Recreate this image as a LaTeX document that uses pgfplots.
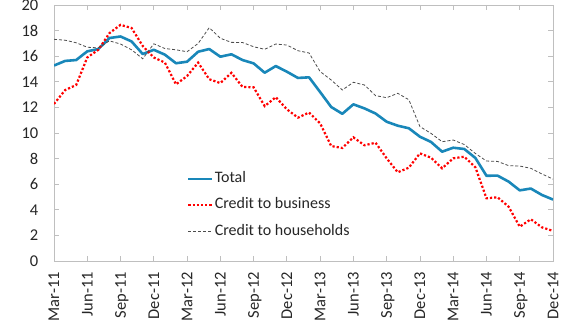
\documentclass[border=0pt]{standalone}
\usepackage{pgfplots}
\pgfplotsset{compat=1.18}
\usepackage{pgfplotstable}
\usepackage{fontspec}
\setmainfont{Carlito}
\definecolor{totc}{RGB}{25,135,185}
\definecolor{axc}{RGB}{191,191,191}
\definecolor{txt}{RGB}{38,38,38}
\pgfplotstableread{
i total business households
0 15.27 12.27 17.32
1 15.63 13.35 17.25
2 15.70 13.75 17.05
3 16.38 15.90 16.70
4 16.56 16.50 16.65
5 17.42 17.80 17.20
6 17.54 18.45 16.95
7 17.15 18.20 16.50
8 16.17 16.80 15.80
9 16.50 15.90 16.97
10 16.12 15.50 16.60
11 15.45 13.80 16.50
12 15.57 14.45 16.35
13 16.35 15.50 17.00
14 16.56 14.20 18.23
15 15.96 13.90 17.40
16 16.15 14.70 17.08
17 15.70 13.60 17.07
18 15.44 13.57 16.74
19 14.71 12.10 16.54
20 15.23 12.80 16.95
21 14.79 11.85 16.87
22 14.30 11.20 16.43
23 14.35 11.60 16.25
24 13.20 10.75 14.80
25 12.03 8.98 14.14
26 11.50 8.83 13.36
27 12.24 9.66 13.96
28 11.92 9.04 13.75
29 11.52 9.24 12.92
30 10.88 8.02 12.76
31 10.57 6.93 13.10
32 10.37 7.29 12.60
33 9.71 8.41 10.50
34 9.30 8.07 9.97
35 8.54 7.24 9.32
36 8.85 8.02 9.45
37 8.75 8.15 9.10
38 8.05 7.32 8.40
39 6.66 4.90 7.81
40 6.67 4.98 7.78
41 6.20 4.24 7.45
42 5.52 2.68 7.42
43 5.66 3.26 7.24
44 5.16 2.63 6.80
45 4.80 2.35 6.40
}\data
\begin{document}
\begin{tikzpicture}
\begin{axis}[
  at={(0,0)}, anchor=south west,
  scale only axis,
  width=499bp, height=256bp,
  xmin=0, xmax=45, ymin=0, ymax=20,
  xtick={0,3,...,45},
  xticklabels={Mar-11,Jun-11,Sep-11,Dec-11,Mar-12,Jun-12,Sep-12,Dec-12,Mar-13,Jun-13,Sep-13,Dec-13,Mar-14,Jun-14,Sep-14,Dec-14},
  ytick={0,2,...,20},
  tick align=inside,
  major tick length=5bp,
  tick style={axc, line width=0.8bp},
  axis line style={axc, line width=0.9bp},
  /pgf/number format/assume math mode=true,
  tick label style={font=\fontsize{16.5bp}{19bp}\selectfont, text=txt},
  yticklabel style={inner sep=0pt, xshift=-15.5bp},
  xticklabel style={yshift=-11bp, rotate=90, anchor=east, inner sep=0pt, text height=10.5bp, text depth=0bp},
  legend cell align=left,
  legend style={draw=none, fill=none, at={(0.2665,0.355)}, anchor=north west,
    font=\fontsize{16bp}{19bp}\selectfont, text=txt,
    inner sep=0pt, row sep=9.5bp,
    nodes={inner sep=1bp, text height=11bp, text depth=4bp}},
  legend image code/.code={\draw[#1] (0bp,0bp) -- (24bp,0bp);},
]
\addplot[totc, line width=2.6bp, line join=round] table[x=i, y=total] {\data};
\addlegendentry{Total}
\addplot[red, line width=2.2bp, dash pattern=on 2.2bp off 2bp] table[x=i, y=business] {\data};
\addlegendentry{Credit to business}
\addplot[black!70, line width=0.8bp, dash pattern=on 3bp off 2bp] table[x=i, y=households] {\data};
\addlegendentry{Credit to households}
\end{axis}
\pgfresetboundingbox
\useasboundingbox (-54bp,-62bp) rectangle (508bp,261bp);
\end{tikzpicture}
\end{document}
